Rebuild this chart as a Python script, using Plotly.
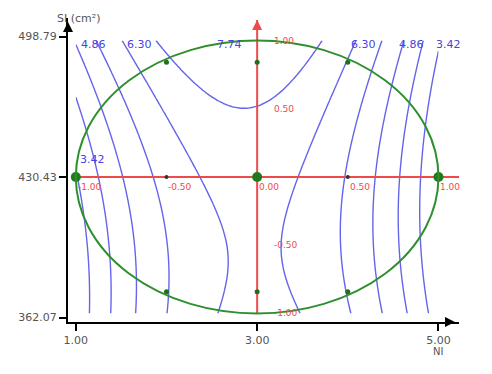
import numpy as np
import plotly.graph_objects as go

# response surface model (coded variables X1, X3)
b0, b1, b3 = 7.27, -0.315, 0.62
b11, b33, b13 = -3.5, 0.55, -0.385
levels = [3.42, 4.14, 4.86, 5.58, 6.30, 7.02, 7.74]

# coded -> real
ni_center, ni_step = 3.0, 2.0
si_center, si_step = 430.43, 66.4

x_ticks = [1.00, 3.00, 5.00]
y_ticks = [362.07, 430.43, 498.79]
coded_ticks = [-1.0, -0.5, 0.0, 0.5, 1.0]

# experimental points (coded)
big_x1 = [-1.0, 0.0, 1.0]
big_x3 = [0.0, 0.0, 0.0]
small_x1 = [-0.5, 0.0, 0.5, -0.5, 0.0, 0.5]
small_x3 = [0.84, 0.84, 0.84, -0.84, -0.84, -0.84]

# contour labels: (text, X1, X3)
label_text = ["4.86", "6.30", "7.74", "6.30", "4.86", "3.42", "3.42"]
label_x1 = [-0.905, -0.65, -0.155, 0.585, 0.85, 1.055, -0.91]
label_x3 = [0.97, 0.97, 0.97, 0.97, 0.97, 0.97, 0.125]

def ni(x1):
    return ni_center + ni_step * np.asarray(x1)

def si(x3):
    return si_center + si_step * np.asarray(x3)

g1 = np.linspace(-1, 1, 101)
g3 = np.linspace(-1, 1, 101)
X1, X3 = np.meshgrid(g1, g3)
Z = b0 + b1 * X1 + b3 * X3 + b11 * X1**2 + b33 * X3**2 + b13 * X1 * X3

blue = "#6464ec"
red = "#ee4a4a"
green = "#2f8f2f"
gray = "#555555"

fig = go.Figure()

fig.add_trace(go.Contour(
    x=ni(g1), y=si(g3), z=Z,
    contours=dict(start=levels[0], end=levels[-1], size=levels[1] - levels[0],
                  coloring="lines", showlabels=False),
    colorscale=[[0, blue], [1, blue]],
    line=dict(width=1.4),
    showscale=False, hoverinfo="skip"))

# red coded axes
fig.add_trace(go.Scatter(x=ni([-1.0, 1.15]), y=si([0, 0]), mode="lines",
                         line=dict(color=red, width=2), hoverinfo="skip"))
fig.add_trace(go.Scatter(x=ni([0, 0]), y=si([-1.0, 1.15]), mode="lines",
                         line=dict(color=red, width=2), hoverinfo="skip"))

# design points
fig.add_trace(go.Scatter(x=ni(small_x1), y=si(small_x3), mode="markers",
                         marker=dict(color="#1f6f1f", size=5), hoverinfo="skip"))
fig.add_trace(go.Scatter(x=ni([-0.5, 0.5]), y=si([0, 0]), mode="markers",
                         marker=dict(color="#333333", size=4), hoverinfo="skip"))
fig.add_trace(go.Scatter(x=ni(big_x1), y=si(big_x3), mode="markers",
                         marker=dict(color="#1f7a1f", size=10), hoverinfo="skip"))

# experimental domain
fig.add_shape(type="circle", xref="x", yref="y",
              x0=ni_center - ni_step, x1=ni_center + ni_step,
              y0=si_center - si_step, y1=si_center + si_step,
              line=dict(color=green, width=2))

ann = []
for t, a, c in zip(label_text, label_x1, label_x3):
    ann.append(dict(x=float(ni(a)), y=float(si(c)), text=t, showarrow=False,
                    font=dict(color="#4545e0", size=11, family="DejaVu Sans")))

red_font = dict(color=red, size=9, family="DejaVu Sans")
for v in coded_ticks:
    ann.append(dict(x=float(ni(v)), y=si_center, text="%.2f" % v, showarrow=False,
                    xanchor="left", yanchor="top", yshift=-3, font=red_font))
    if v != 0:
        ann.append(dict(x=ni_center, y=float(si(v)), text="%.2f" % v, showarrow=False,
                        xanchor="left", xshift=15, font=red_font))

ann += [
    dict(x=float(ni(1.15)), y=si_center, text="", showarrow=True, ax=-8, ay=0,
         arrowhead=2, arrowsize=1, arrowwidth=2, arrowcolor=red),
    dict(x=ni_center, y=float(si(1.15)), text="", showarrow=True, ax=0, ay=8,
         arrowhead=2, arrowsize=1, arrowwidth=2, arrowcolor=red),
    dict(x=float(ni(1.12)), y=si_center, text="X1", showarrow=False, yshift=12,
         font=red_font),
    dict(x=ni_center, y=float(si(1.2)), text="X3", showarrow=False, xshift=13,
         font=red_font),
    dict(x=1, y=1, xref="paper", yref="paper", text="", showarrow=True,
         ax=-8, ay=0, arrowhead=2, arrowsize=1, arrowwidth=2, arrowcolor="black",
         yshift=-304, xshift=-4),
    dict(x=0, y=1, xref="paper", yref="paper", text="", showarrow=True,
         ax=0, ay=8, arrowhead=2, arrowsize=1, arrowwidth=2, arrowcolor="black",
         yshift=-4),
    dict(x=0, y=1, xref="paper", yref="paper", text="SI (cm²)", showarrow=False,
         xanchor="left", yanchor="bottom", xshift=-13, yshift=-9,
         font=dict(color=gray, size=11, family="DejaVu Sans")),
    dict(x=5.0, y=0, yref="paper", text="NI", showarrow=False,
         yanchor="top", yshift=-22,
         font=dict(color=gray, size=10, family="DejaVu Sans")),
]

# the page body adds an 8px offset, so the figure is a bit smaller than the window
fig.update_layout(
    width=476, height=358,
    margin=dict(l=51, r=25, t=10, b=44),
    paper_bgcolor="white", plot_bgcolor="white",
    showlegend=False,
    annotations=ann,
    font=dict(family="DejaVu Sans", size=11, color=gray),
)
fig.update_xaxes(range=[0.9137, 5.2264], tickvals=x_ticks,
                 ticktext=["%.2f" % v for v in x_ticks],
                 showline=True, linecolor="black", linewidth=2,
                 ticks="outside", ticklen=7, tickwidth=2, tickcolor="black",
                 showgrid=False, zeroline=False)
fig.update_yaxes(range=[359.88, 507.79], tickvals=y_ticks,
                 ticktext=["%.2f" % v for v in y_ticks],
                 showline=True, linecolor="black", linewidth=2,
                 ticks="outside", ticklen=7, tickwidth=2, tickcolor="black",
                 showgrid=False, zeroline=False)

fig.write_html("out.html")
